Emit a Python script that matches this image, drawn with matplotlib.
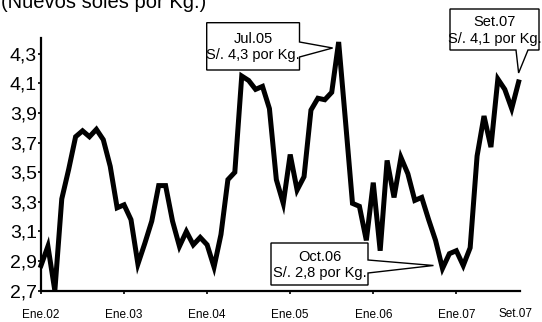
import numpy as np
import matplotlib.pyplot as plt
from matplotlib.patches import Polygon

# precio mensual (Nuevos soles por Kg.), Ene.02 .. Set.07
precio = [2.87, 3.00, 2.70, 3.32, 3.52, 3.74, 3.78, 3.74, 3.79, 3.72,
          3.54, 3.26, 3.28, 3.18, 2.88, 3.02, 3.17, 3.41, 3.41, 3.17,
          3.00, 3.10, 3.01, 3.06, 3.01, 2.86, 3.08, 3.45, 3.50, 4.15,
          4.12, 4.06, 4.08, 3.93, 3.45, 3.29, 3.62, 3.38, 3.47, 3.92,
          4.00, 3.99, 4.04, 4.38, 3.84, 3.29, 3.27, 3.04, 3.43, 2.97,
          3.58, 3.33, 3.60, 3.49, 3.31, 3.33, 3.18, 3.04, 2.85, 2.95,
          2.97, 2.87, 2.99, 3.61, 3.88, 3.67, 4.13, 4.06, 3.93, 4.11]
tick_pos = [0, 12, 24, 36, 48, 60]
tick_lab = ["Ene.02", "Ene.03", "Ene.04", "Ene.05", "Ene.06", "Ene.07"]
y_ticks = [2.7, 2.9, 3.1, 3.3, 3.5, 3.7, 3.9, 4.1, 4.3]

# callouts: (indice del punto, texto)
notas = [(43, "Jul.05\nS/. 4,3 por Kg."),
         (69, "Set.07\nS/. 4,1 por Kg."),
         (58, "Oct.06\nS/. 2,8 por Kg.")]

W, H = 542, 322
fam = ["Liberation Sans", "DejaVu Sans"]

fig = plt.figure(figsize=(W / 100, H / 100), dpi=100)
ax = fig.add_axes([41 / W, 1 - 290.7 / H, (520 - 41) / W, (290.7 - 38) / H])

x = np.arange(len(precio))
ax.plot(x, precio, color="black", lw=3.6, solid_joinstyle="miter", clip_on=False, zorder=3)

ax.set_xlim(0, 69.2)
ax.set_ylim(2.7, 4.407)
for s in ["top", "right"]:
    ax.spines[s].set_visible(False)
for s in ["left", "bottom"]:
    ax.spines[s].set_linewidth(1.6)

ax.set_yticks(y_ticks)
ax.set_yticklabels([("%.1f" % v).replace(".", ",") for v in y_ticks],
                   fontsize=14, family=fam)
ax.set_xticks(tick_pos)
ax.set_xticklabels(tick_lab, fontsize=8.5, family=fam)
ax.set_xticks([68.5], ["Set.07"], minor=True, fontsize=8.5, family=fam)
ax.tick_params(axis="x", which="major", length=2.5, width=1.2, pad=11)
ax.tick_params(axis="x", which="minor", length=0, pad=12.8)
ax.tick_params(axis="y", length=2, width=1.2, pad=0.8)

# titulo cortado arriba, como en el original
fig.text(1 / W, 1 - 8 / H, "(Nuevos soles por Kg.)", fontsize=14.5, family=fam,
         ha="left", va="baseline")


def fpx(px, py):
    return (px / W, 1 - py / H)


def tip_of(i, dx, dy):
    d = ax.transData.transform((i, precio[i]))
    return (d[0] + dx, H - d[1] + dy)


def callout(box, wedge, tip, text):
    x0, y0, x1, y1 = box
    a, b = wedge[1], wedge[2]
    if wedge[0] == "right":
        pts = [(x0, y0), (x1, y0), (x1, a), tip, (x1, b), (x1, y1), (x0, y1)]
    else:
        pts = [(x0, y0), (x1, y0), (x1, y1), (b, y1), tip, (a, y1), (x0, y1)]
    poly = Polygon([fpx(*p) for p in pts], closed=True, transform=fig.transFigure,
                   facecolor="white", edgecolor="black", lw=1.0, clip_on=False, zorder=5)
    fig.patches.append(poly)
    cx, cy = fpx((x0 + x1) / 2, (y0 + y1) / 2 + 1)
    fig.text(cx, cy, text, ha="center", va="center", fontsize=10.5, family=fam,
             linespacing=1.2, zorder=6)


callout((206.7, 22.7, 299.5, 70), ("right", 42, 57), tip_of(notas[0][0], -6, 6), notas[0][1])
callout((450, 9, 539, 50), ("bottom", 516, 528), tip_of(notas[1][0], 0, -9), notas[1][1])
callout((271, 243, 368, 285), ("right", 260, 273), tip_of(notas[2][0], -9, -3), notas[2][1])

fig.savefig("out.png", dpi=100)
